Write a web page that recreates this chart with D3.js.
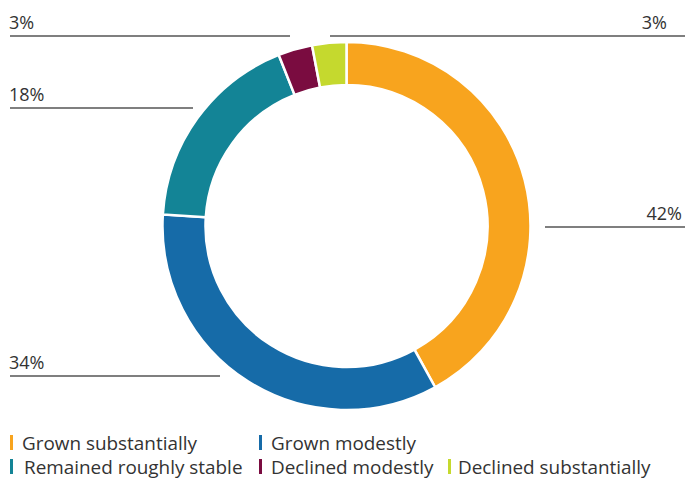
<!DOCTYPE html>
<html>
<head>
<meta charset="utf-8">
<script src="https://cdn.jsdelivr.net/npm/d3@7"></script>
<style>
  html, body { margin: 0; padding: 0; background: #fff; }
  svg { display: block; font-family: "Open Sans", "Noto Sans", sans-serif; }
</style>
</head>
<body>
<svg id="chart" width="685" height="480"></svg>
<script>
// Share of respondents by change category
const categories = ["Grown substantially", "Grown modestly", "Remained roughly stable", "Declined modestly", "Declined substantially"];
const values = [42, 34, 18, 3, 3];
const labels = ["42%", "34%", "18%", "3%", "3%"];
const colors = ["#F8A41E", "#166BA8", "#138496", "#7A0C40", "#C5D92E"];

// Where each percentage label and its leader rule sit
const labelLayout = [
  { side: "right", y: 227, x1: 545, x2: 685, tx: 682 },
  { side: "left",  y: 376, x1: 10,  x2: 220, tx: 9 },
  { side: "left",  y: 108, x1: 10,  x2: 193, tx: 9 },
  { side: "left",  y: 36,  x1: 10,  x2: 290, tx: 9 },
  { side: "right", y: 36,  x1: 330, x2: 685, tx: 667 }
];

// Legend placement (two rows)
const legendLayout = [
  { x: 10,  y: 435, tx: 22 },
  { x: 259, y: 435, tx: 271 },
  { x: 10,  y: 459, tx: 24 },
  { x: 259, y: 459, tx: 271 },
  { x: 448, y: 459, tx: 458 }
];

const svg = d3.select("#chart");
const cx = 346.5, cy = 226, rOuter = 184, rInner = 141;

const pie = d3.pie().sort(null).value(d => d)(values);
const arc = d3.arc().innerRadius(rInner).outerRadius(rOuter);

const ring = svg.append("g").attr("transform", `translate(${cx},${cy})`);
ring.selectAll("path")
  .data(pie)
  .join("path")
  .attr("d", arc)
  .attr("fill", (d, i) => colors[i])
  .attr("stroke", "#fff")
  .attr("stroke-width", 2.5)
  .attr("stroke-linejoin", "miter");

// Leader rules and labels
const lab = svg.append("g");
labelLayout.forEach((L, i) => {
  lab.append("line")
    .attr("x1", L.x1).attr("x2", L.x2)
    .attr("y1", L.y).attr("y2", L.y)
    .attr("stroke", "#555").attr("stroke-width", 1.3);
  lab.append("text")
    .attr("x", L.tx).attr("y", L.y - 7)
    .attr("text-anchor", L.side === "right" ? "end" : "start")
    .attr("fill", "#333")
    .attr("font-size", 18)
    .text(labels[i]);
});

// Legend
const leg = svg.append("g");
categories.forEach((c, i) => {
  const L = legendLayout[i];
  leg.append("rect")
    .attr("x", L.x).attr("y", L.y)
    .attr("width", 3).attr("height", 15)
    .attr("fill", colors[i]);
  leg.append("text")
    .attr("x", L.tx).attr("y", L.y + 14.5)
    .attr("fill", "#333")
    .attr("font-size", 18.9)
    .text(c);
});
</script>
</body>
</html>
